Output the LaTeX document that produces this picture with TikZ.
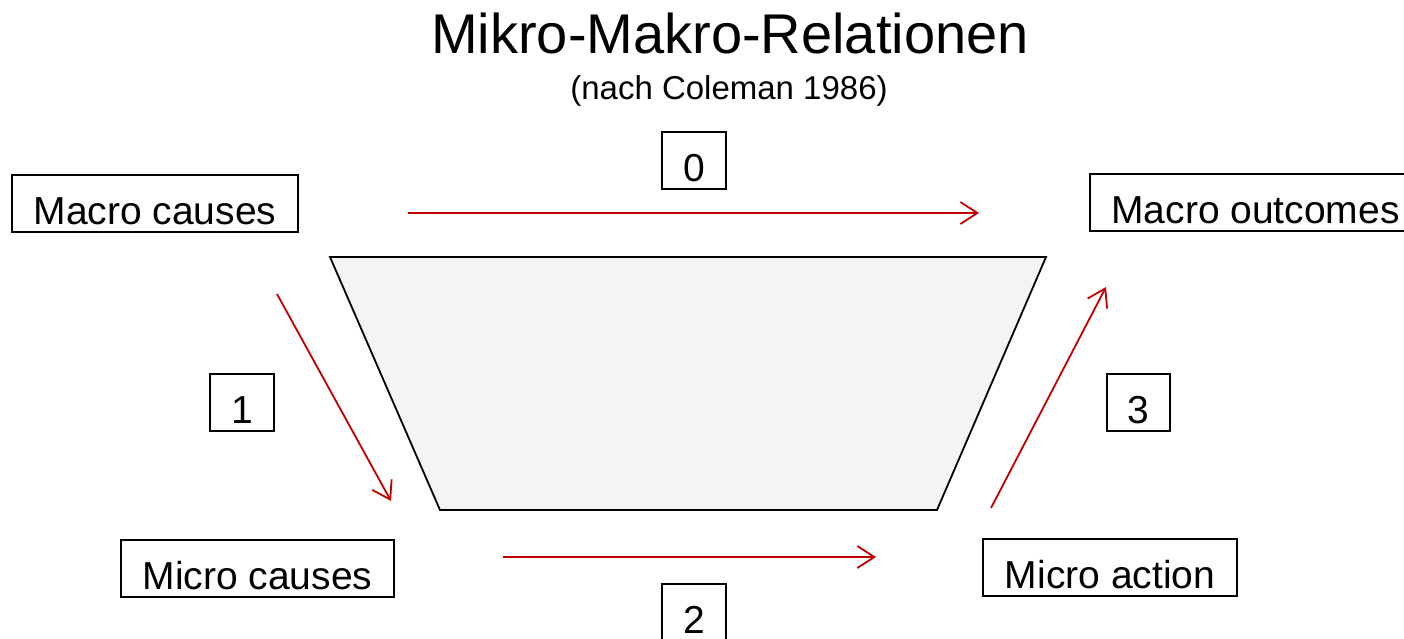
\documentclass[tikz,border=0pt]{standalone}
\usepackage{fontspec}
\setmainfont{Liberation Sans}
\usetikzlibrary{arrows.meta}
\definecolor{arrred}{RGB}{192,0,0}
\definecolor{trapfill}{RGB}{244,244,244}
\tikzset{
  lbox/.style={draw=black, line width=2pt, inner xsep=0pt, inner ysep=0pt,
    text height=49pt, text depth=8pt, anchor=base,
    font=\fontsize{39}{41}\selectfont},
  rel/.style={draw=arrred, line width=1.8pt,
    -{Straight Barb[length=17pt,width=22pt,line width=1.8pt]}},
}
\begin{document}
\begin{tikzpicture}[x=1pt,y=-1pt]
\useasboundingbox (0,0) rectangle (1404,638);
\clip (0,0) rectangle (1404,638);
% title
\node[anchor=base, font=\fontsize{56}{60}\selectfont, inner sep=0pt] (title) at (730,53) {Mikro-Makro-Relationen};
\node[anchor=base, font=\fontsize{33}{36}\selectfont, inner sep=0pt] (subtitle) at (729,99) {(nach Coleman 1986)};
% trapezoid
\draw[line width=1.8pt, fill=trapfill, line join=miter] (330,257) -- (1046,257) -- (937,510) -- (440,510) -- cycle;
% text boxes
\node[lbox, minimum width=286pt] (mc) at (155,224) {Macro causes};
\node[lbox, minimum width=331pt] (mo) at (1255.5,223) {Macro outcomes};
\node[lbox, minimum width=273pt] (mic) at (257.5,589) {Micro causes};
\node[lbox, minimum width=254pt] (mia) at (1110,588) {Micro action};
% number boxes
\node[lbox, minimum width=64pt] (n0) at (694,181) {0};
\node[lbox, minimum width=64pt] (n1) at (242,423) {1};
\node[lbox, minimum width=63pt] (n3) at (1138.5,423) {3};
\node[lbox, minimum width=64pt] (n2) at (694,633) {2};
% arrow endpoints
\coordinate (a0s) at (408,213);
\coordinate (a0e) at (979,213);
\coordinate (a1s) at (277,294);
\coordinate (a1e) at (391,501);
\coordinate (a2s) at (503,557);
\coordinate (a2e) at (876,557);
\coordinate (a3s) at (991,508);
\coordinate (a3e) at (1106,287);
\draw[rel] (a0s) -- (a0e);
\draw[rel] (a1s) -- (a1e);
\draw[rel] (a2s) -- (a2e);
\draw[rel] (a3s) -- (a3e);
\end{tikzpicture}
\end{document}
